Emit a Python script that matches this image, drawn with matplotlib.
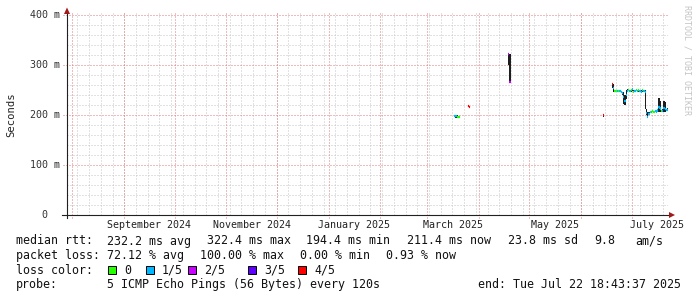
import matplotlib
matplotlib.use('Agg')
import matplotlib.pyplot as plt
import matplotlib.dates as mdates
from matplotlib.patches import Polygon, Rectangle
from datetime import datetime, timedelta

plt.rcParams['lines.scale_dashes'] = False

# ---------------- data ----------------
sample_time = [
    "2025-03-17 00:00", "2025-03-17 18:00", "2025-03-18 12:00", "2025-03-19 06:00", "2025-03-20 00:00",
    "2025-03-25 06:00", "2025-03-26 00:00",
    "2025-04-18 06:00", "2025-04-19 00:00",
    "2025-06-14 00:00",
    "2025-06-19 06:00", "2025-06-20 00:00", "2025-06-20 18:00", "2025-06-21 12:00", "2025-06-22 06:00",
    "2025-06-23 00:00", "2025-06-23 18:00", "2025-06-24 12:00", "2025-06-25 06:00", "2025-06-26 00:00",
    "2025-06-26 18:00", "2025-06-27 12:00", "2025-06-28 06:00", "2025-06-29 00:00", "2025-06-29 18:00",
    "2025-06-30 12:00", "2025-07-01 06:00", "2025-07-02 00:00", "2025-07-02 18:00", "2025-07-03 12:00",
    "2025-07-04 06:00", "2025-07-05 00:00", "2025-07-05 18:00", "2025-07-06 12:00", "2025-07-07 06:00",
    "2025-07-08 00:00", "2025-07-08 18:00", "2025-07-09 12:00", "2025-07-10 06:00", "2025-07-11 00:00",
    "2025-07-11 18:00", "2025-07-12 12:00", "2025-07-13 06:00", "2025-07-14 00:00", "2025-07-14 18:00",
    "2025-07-15 12:00", "2025-07-16 06:00", "2025-07-17 00:00", "2025-07-17 18:00", "2025-07-18 12:00",
    "2025-07-19 06:00", "2025-07-20 00:00", "2025-07-20 18:00", "2025-07-21 12:00", "2025-07-22 06:00",
]
median_ms = [
    198, 198, 197, 197, 197,
    218, 217,
    322, 266,
    200,
    262, 254, 248, 249, 248,
    249, 248, 247, 244, 236,
    228, 240, 249, 251, 248,
    250, 252, 247, 249, 251,
    248, 250, 249, 247, 250,
    249, 246, 205, 196, 203,
    207, 206, 208, 207, 209,
    207, 210, 216, 212, 208,
    209, 214, 213, 210, 211,
]
loss_count = [
    1, 1, 0, 0, 0,
    4, 4,
    2, 2,
    4,
    4, 1, 0, 0, 1,
    0, 1, 1, 1, 1,
    1, 1, 1, 0, 1,
    0, 1, 0, 1, 0,
    1, 0, 1, 1, 0,
    1, 1, 1, 1, 1,
    0, 1, 0, 0, 1,
    1, 1, 1, 1, 0,
    1, 1, 1, 1, 1,
]
smoke_lo = [
    196, 195, 195, 196, 196,
    216, 216,
    300, 264,
    197,
    255, 246, 246, 247, 246,
    247, 246, 245, 240, 222,
    220, 232, 246, 248, 246,
    247, 249, 245, 246, 248,
    246, 247, 246, 245, 247,
    246, 212, 200, 194, 200,
    205, 204, 206, 205, 206,
    205, 207, 206, 206, 206,
    207, 207, 206, 208, 208,
]
smoke_hi = [
    200, 201, 200, 199, 198,
    219, 218,
    324, 322,
    202,
    264, 262, 250, 251, 250,
    251, 250, 249, 247, 246,
    240, 250, 252, 253, 251,
    252, 254, 250, 251, 253,
    251, 252, 251, 250, 252,
    251, 250, 212, 206, 206,
    209, 209, 210, 209, 211,
    210, 213, 234, 228, 211,
    212, 228, 226, 213, 214,
]

loss_labels = ["0", "1/5", "2/5", "3/5", "4/5"]
loss_colors = ["#26ff00", "#00b8ff", "#c800ff", "#5e00ff", "#ff0000"]

month_labels = ["September 2024", "November 2024", "January 2025",
                "March 2025", "May 2025", "July 2025"]

y_ticks = [0, 100, 200, 300, 400]
y_tick_labels = ["  0", "100 m", "200 m", "300 m", "400 m"]

stat_rows = [
    ("median rtt:", ["232.2 ms avg", "322.4 ms max", "194.4 ms min", "211.4 ms now", "23.8 ms sd", "9.8", "am/s"]),
    ("packet loss:", ["72.12 % avg", "100.00 % max", "0.00 % min", "0.93 % now"]),
]
probe_text = "5 ICMP Echo Pings (56 Bytes) every 120s"
end_text = "end: Tue Jul 22 18:43:37 2025"

# ---------------- layout ----------------
W, H = 697, 297
AX_L, AX_R = 67, 668
Y0, YTOP = 215, 12.5
YMAX = 405
X_END = datetime(2025, 7, 22, 18, 43, 37)
PX_PER_DAY = 1.674
X_START = X_END - timedelta(days=(AX_R - AX_L) / PX_PER_DAY)
MONO = "DejaVu Sans Mono"

def fx(px):
    return px / W

def fy(py):
    return 1 - py / H

fig = plt.figure(figsize=(W / 100, H / 100), dpi=100)
fig.patch.set_facecolor("white")
ax = fig.add_axes([fx(AX_L), fy(Y0), (AX_R - AX_L) / W, (Y0 - YTOP) / H])
ax.set_xlim(mdates.date2num(X_START), mdates.date2num(X_END))
ax.set_ylim(0, YMAX)
ax.axis("off")

AXW = AX_R - AX_L
AXH = Y0 - YTOP
minor_c = "#c4c4c4"
major_c = "#e07878"
dot = (0, (0.72, 1.44))
GL = dict(lw=0.72, ls=dot, antialiased=True)

# minor horizontal grid
for v in range(20, 401, 20):
    if v % 100:
        ax.axhline(v, color=minor_c, zorder=1, **GL)
# minor vertical grid: weekly (Sundays)
d = X_START.replace(hour=0, minute=0, second=0)
while d.weekday() != 6:
    d += timedelta(days=1)
while d < X_END:
    ax.axvline(mdates.date2num(d), color=minor_c, zorder=1, **GL)
    d += timedelta(days=7)
# major vertical grid: month starts
month_starts = []
y, m = X_START.year, X_START.month
while True:
    m += 1
    if m > 12:
        m, y = 1, y + 1
    ms = datetime(y, m, 1)
    if ms > X_END:
        break
    month_starts.append(ms)
for ms in month_starts:
    ax.axvline(mdates.date2num(ms), ymin=-3 / AXH, ymax=1, color=major_c,
               zorder=2, clip_on=False, **GL)
# major horizontal grid
for v in range(100, 401, 100):
    ax.axhline(v, xmin=-4 / AXW, xmax=1, color=major_c, zorder=2, clip_on=False, **GL)

# ---------------- data marks ----------------
times = [datetime.strptime(s, "%Y-%m-%d %H:%M") for s in sample_time]
tn = mdates.date2num(times)
step = 0.75
widths = []
for i in range(len(tn)):
    if i + 1 < len(tn):
        widths.append(min(tn[i + 1] - tn[i], step))
    else:
        widths.append(step)

# smoke
ax.bar(tn, [h - l for h, l in zip(smoke_hi, smoke_lo)], width=widths, bottom=smoke_lo,
       align="edge", color="#1e1e1e", linewidth=0, zorder=3)
# median line coloured by loss
cols = [loss_colors[c] for c in loss_count]
ax.hlines(median_ms, tn, [t + w for t, w in zip(tn, widths)], colors=cols, lw=1.6,
          zorder=4, capstyle="butt")
for i in range(len(tn) - 1):
    jump = abs(median_ms[i + 1] - median_ms[i])
    if loss_count[i] == loss_count[i + 1] and tn[i + 1] - tn[i] <= step + 1e-6 and jump <= 4:
        ax.vlines(tn[i + 1], min(median_ms[i], median_ms[i + 1]), max(median_ms[i], median_ms[i + 1]),
                  colors=cols[i], lw=1.6, zorder=4)

# ---------------- axes lines & arrows ----------------
ax.axhline(0, xmin=-5 / AXW, xmax=1 + 2 / AXW, color="#202020", lw=0.8, zorder=5, clip_on=False)
ax.axvline(mdates.date2num(X_START), ymin=-3 / AXH, ymax=1, color="#202020", lw=0.8, zorder=5, clip_on=False)
arrow_c = "#a01818"
top_arrow = [((64 - AX_L) / AXW, (Y0 - 14) / AXH), ((70 - AX_L) / AXW, (Y0 - 14) / AXH),
             ((67 - AX_L) / AXW, (Y0 - 7.5) / AXH)]
right_arrow = [((669 - AX_L) / AXW, 3 / AXH), ((669 - AX_L) / AXW, -3 / AXH),
               ((675 - AX_L) / AXW, 0)]
for pts in (top_arrow, right_arrow):
    ax.add_patch(Polygon(pts, closed=True, transform=ax.transAxes, color=arrow_c,
                         clip_on=False, zorder=6, lw=0))

# ---------------- axis labels ----------------
for v, lab in zip(y_ticks, y_tick_labels):
    ax.text(-37 / AXW, v, lab, transform=ax.get_yaxis_transform(), ha="left", va="center",
            family=MONO, fontsize=7.2, color="#333333")
label_months = month_starts[1::2]
for ms, lab in zip(label_months, month_labels):
    nm = datetime(ms.year + (ms.month // 12), ms.month % 12 + 1, 1)
    mid = mdates.date2num(ms) + (mdates.date2num(nm) - mdates.date2num(ms)) / 2
    ax.text(mid, -10 / AXH, lab, transform=ax.get_xaxis_transform(), ha="center", va="center",
            family=MONO, fontsize=7.2, color="#222222", clip_on=False)

fig.text(fx(11), fy(115), "Seconds", rotation=90, ha="center", va="center",
         family=MONO, fontsize=7.6, color="#222222")
fig.text(fx(686.5), fy(5), "RRDTOOL / TOBI OETIKER", rotation=270, ha="center", va="top",
         family=MONO, fontsize=6.0, color="#c4c4c4")

# ---------------- legend / stats ----------------
FS = 8.4
row_y = [241, 255.5, 270, 284.5]
item_x = [107, 207, 306.5, 407, 507.5, 594, 635]
for (head, items), ry in zip(stat_rows, row_y[:2]):
    fig.text(fx(16), fy(ry), head, ha="left", va="center", family=MONO, fontsize=FS, color="#111111")
    x = 107
    for j, it in enumerate(items):
        if head.startswith("median"):
            x = item_x[j]
        fig.text(fx(x), fy(ry), it, ha="left", va="center", family=MONO, fontsize=FS, color="#111111")
        x += len(it) * 7.0 + 16

fig.text(fx(16), fy(row_y[2]), "loss color:", ha="left", va="center", family=MONO, fontsize=FS, color="#111111")
box_x = [108, 146, 188, 248, 298]
for bx, col, lab in zip(box_x, loss_colors, loss_labels):
    fig.patches.append(Rectangle((fx(bx), fy(row_y[2] + 4)), 8 / W, 8 / H, transform=fig.transFigure,
                                 facecolor=col, edgecolor="black", lw=0.7))
    fig.text(fx(bx + 16), fy(row_y[2]), lab, ha="left", va="center", family=MONO, fontsize=FS, color="#111111")

fig.text(fx(16), fy(row_y[3]), "probe:", ha="left", va="center", family=MONO, fontsize=FS, color="#111111")
fig.text(fx(107), fy(row_y[3]), probe_text, ha="left", va="center", family=MONO, fontsize=FS, color="#111111")
fig.text(fx(681), fy(row_y[3]), end_text, ha="right", va="center", family=MONO, fontsize=FS, color="#111111")

fig.savefig("out.png", dpi=100, facecolor="white")
